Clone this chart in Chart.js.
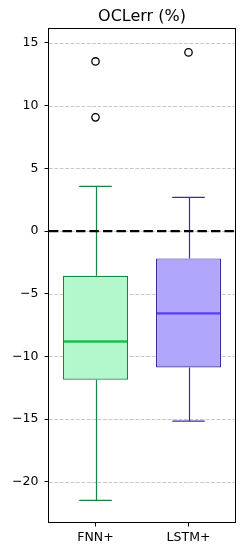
<!DOCTYPE html>
<html>
<head>
<meta charset="utf-8">
<script src="https://cdn.jsdelivr.net/npm/chart.js@4/dist/chart.umd.min.js"></script>
<style>
html,body{margin:0;padding:0;background:#fff;}
#wrap{width:245px;height:556px;}
</style>
</head>
<body>
<div id="wrap"><canvas id="c" width="245" height="556"></canvas></div>
<script>
// ---- data ----
const title = 'OCLerr (%)';
const categories = ['FNN+', 'LSTM+'];
const whiskerLow  = [-21.48, -15.15];
const q1          = [-11.86, -10.87];
const median      = [-8.80,  -6.56];
const q3          = [-3.56,  -2.18];
const whiskerHigh = [3.56,   2.69];
const outlierCat  = ['FNN+', 'FNN+', 'LSTM+'];
const outlierVal  = [13.53, 9.07, 14.25];
const yTicks = [-20, -15, -10, -5, 0, 5, 10, 15];
const yMin = -23.2, yMax = 16.1;

// ---- styles ----
const fillColors   = ['#b3f7cc', '#b0a6fc'];
const edgeColors   = ['#12863a', '#3b2c9a'];
const medianColors = ['#14c24b', '#5b3df5'];
const FONT = "'DejaVu Sans', sans-serif";
const BOX_W = 0.7;

const boxPlugin = {
  id: 'boxExtras',
  beforeDatasetsDraw(chart) {
    const {ctx, chartArea: a, scales: {y}} = chart;
    ctx.save();
    ctx.strokeStyle = '#c8c8c8';
    ctx.lineWidth = 1;
    ctx.setLineDash([3.8, 1.6]);
    y.ticks.forEach(t => {
      const py = Math.round(y.getPixelForValue(t.value)) + 0.5;
      ctx.beginPath(); ctx.moveTo(a.left, py); ctx.lineTo(a.right, py); ctx.stroke();
    });
    ctx.restore();
  },
  afterDatasetsDraw(chart) {
    const {ctx, chartArea: a, scales: {x, y}} = chart;
    ctx.save();
    categories.forEach((c, i) => {
      const cx = Math.round(x.getPixelForValue(i)) + 0.5;
      const capL = x.getPixelForValue(i - BOX_W / 4);
      const capR = x.getPixelForValue(i + BOX_W / 4);
      const bl = x.getPixelForValue(i - BOX_W / 2);
      const br = x.getPixelForValue(i + BOX_W / 2);
      ctx.setLineDash([]);
      ctx.strokeStyle = edgeColors[i];
      ctx.lineWidth = 1.2;
      // whiskers
      ctx.beginPath();
      ctx.moveTo(cx, y.getPixelForValue(q3[i])); ctx.lineTo(cx, y.getPixelForValue(whiskerHigh[i]));
      ctx.moveTo(cx, y.getPixelForValue(q1[i])); ctx.lineTo(cx, y.getPixelForValue(whiskerLow[i]));
      ctx.stroke();
      // caps
      ctx.beginPath();
      const ph = y.getPixelForValue(whiskerHigh[i]);
      const pl = y.getPixelForValue(whiskerLow[i]);
      ctx.moveTo(capL, ph); ctx.lineTo(capR, ph);
      ctx.moveTo(capL, pl); ctx.lineTo(capR, pl);
      ctx.stroke();
      // median
      ctx.strokeStyle = medianColors[i];
      ctx.lineWidth = 2.4;
      const pm = y.getPixelForValue(median[i]);
      ctx.beginPath(); ctx.moveTo(bl + 1, pm); ctx.lineTo(br - 1, pm); ctx.stroke();
    });
    // zero line
    ctx.strokeStyle = '#000';
    ctx.lineWidth = 2.4;
    ctx.setLineDash([9.4, 4.1]);
    const p0 = y.getPixelForValue(0);
    ctx.beginPath(); ctx.moveTo(a.left, p0); ctx.lineTo(a.right, p0); ctx.stroke();
    // frame
    ctx.setLineDash([]);
    ctx.lineWidth = 1;
    ctx.strokeRect(Math.round(a.left) - 0.5, Math.round(a.top) - 0.5, Math.round(a.right - a.left) + 1, Math.round(a.bottom - a.top) + 1);
    ctx.restore();
  }
};

const minusFmt = v => (v < 0 ? '\u2212' + Math.abs(v) : String(v));

new Chart(document.getElementById('c'), {
  type: 'bar',
  data: {
    labels: categories,
    datasets: [
      {
        type: 'bar',
        data: categories.map((c, i) => [q1[i], q3[i]]),
        backgroundColor: fillColors,
        borderColor: edgeColors,
        borderWidth: 1.2,
        borderSkipped: false,
        barPercentage: BOX_W,
        categoryPercentage: 1.0
      },
      {
        type: 'scatter',
        data: outlierVal.map((v, i) => ({x: outlierCat[i], y: v})),
        pointStyle: 'circle',
        pointRadius: 3.7,
        pointBorderWidth: 1.3,
        pointBorderColor: '#000',
        pointBackgroundColor: 'rgba(0,0,0,0)',
        showLine: false
      }
    ]
  },
  options: {
    responsive: false,
    animation: false,
    devicePixelRatio: 1,
    layout: {padding: {left: 0, right: 10, top: 0, bottom: 0}},
    plugins: {
      legend: {display: false},
      tooltip: {enabled: false},
      title: {
        display: true, text: title, fullSize: false,
        color: '#000', font: {family: FONT, size: 16, weight: 'normal'},
        padding: {top: 7, bottom: 3}
      }
    },
    scales: {
      x: {
        type: 'category',
        offset: true,
        grid: {display: true, drawOnChartArea: false, drawTicks: true, tickLength: 4.5, tickColor: '#000', tickWidth: 1, offset: false},
        border: {display: false},
        ticks: {color: '#000', font: {family: FONT, size: 12.5}, padding: 4, maxRotation: 0, autoSkip: false},
        afterFit(s) { s.height = 34; }
      },
      y: {
        type: 'linear',
        min: yMin, max: yMax,
        grid: {display: true, drawOnChartArea: false, drawTicks: true, tickLength: 4.5, tickColor: '#000', tickWidth: 1},
        border: {display: false},
        ticks: {color: '#000', font: {family: FONT, size: 12.5}, padding: 6, includeBounds: false, callback: v => minusFmt(v)},
        afterBuildTicks(s) { s.ticks = yTicks.map(v => ({value: v})); },
        afterFit(s) { s.width = 49; }
      }
    }
  },
  plugins: [boxPlugin]
});
</script>
</body>
</html>
